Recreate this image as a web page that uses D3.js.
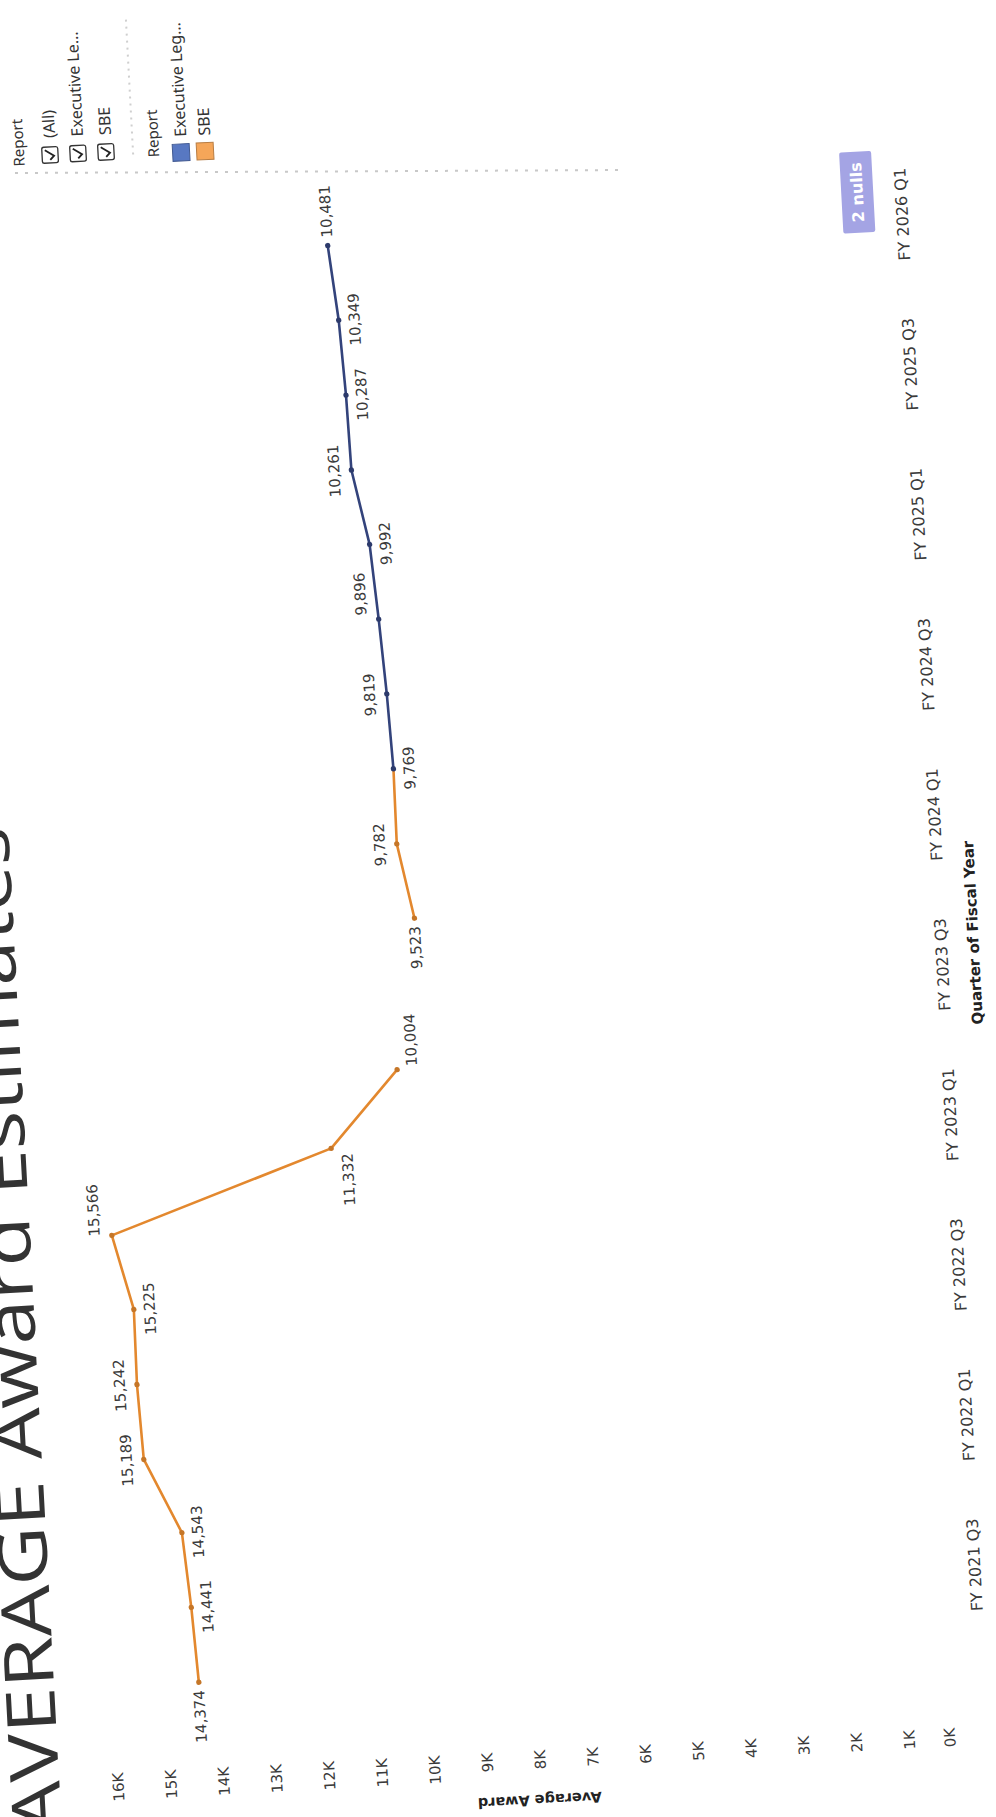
<!DOCTYPE html>
<html><head><meta charset="utf-8">
<script src="https://cdn.jsdelivr.net/npm/d3@7"></script>
<style>body{margin:0;background:#fff}svg{display:block}</style>
</head><body>
<svg id="chart" width="996" height="1817"></svg>
<script>
// ---------------- data ----------------
const quarters = ["FY 2021 Q2","FY 2021 Q3","FY 2021 Q4","FY 2022 Q1","FY 2022 Q2","FY 2022 Q3","FY 2022 Q4",
  "FY 2023 Q1","FY 2023 Q2","FY 2023 Q3","FY 2023 Q4","FY 2024 Q1","FY 2024 Q2","FY 2024 Q3","FY 2024 Q4",
  "FY 2025 Q1","FY 2025 Q2","FY 2025 Q3","FY 2025 Q4","FY 2026 Q1"];
const averageAward = [14374,14441,14543,15189,15242,15225,15566,11332,10004,null,9523,9782,
  9769,9819,9896,9992,10261,10287,10349,10481];
const report = ["SBE","SBE","SBE","SBE","SBE","SBE","SBE","SBE","SBE","SBE","SBE","SBE",
  "Executive Leg","Executive Leg","Executive Leg","Executive Leg","Executive Leg","Executive Leg","Executive Leg","Executive Leg"];
const reportNames = ["Executive Leg","SBE"];
const filterItems = ["(All)","Executive Le\u2026","SBE"];
const legendItems = ["Executive Leg\u2026","SBE"];
const valueTicks = [0,1000,2000,3000,4000,5000,6000,7000,8000,9000,10000,11000,12000,13000,14000,15000,16000];
const valueTickLabels = ["0K","1K","2K","3K","4K","5K","6K","7K","8K","9K","10K","11K","12K","13K","14K","15K","16K"];
const quarterTickLabels = ["FY 2021 Q3","FY 2022 Q1","FY 2022 Q3","FY 2023 Q1","FY 2023 Q3","FY 2024 Q1",
  "FY 2024 Q3","FY 2025 Q1","FY 2025 Q3","FY 2026 Q1"];
const nullCount = 2;
// label placement (layout only)
const labelPlacement = ["left","below","below","above","above","below","aboveRight","belowLeft","belowRight",null,
  "left","above","below","above","aboveRight","below","above","below","below","right"];

// ---------------- styles ----------------
const lineColor = {"SBE":"#e3882e","Executive Leg":"#33437b"};
const swatchColor = {"SBE":"#f5a659","Executive Leg":"#5878c2"};
const textColor = "#3a3a3a";
const FONT = "'DejaVu Sans', Verdana, sans-serif";

const svg = d3.select("#chart");
svg.append("rect").attr("width",996).attr("height",1817).attr("fill","#fff");

// scan artefact: faint dashed separator line (page coords)
svg.append("line").attr("x1",15).attr("x2",625).attr("y1",173).attr("y2",170)
  .attr("stroke","#c8c8c8").attr("stroke-width",2).attr("stroke-dasharray","3,7");

// whole dashboard rotated as on the scanned page
const g = svg.append("g").attr("transform","translate(0,1817) rotate(-93.07)");

// title
g.append("text").attr("x",-18).attr("y",61)
  .attr("font-family","'Open Sans', 'Noto Sans', sans-serif").attr("font-weight",400)
  .attr("font-size",68).attr("fill","#333")
  .attr("textLength",1007).attr("lengthAdjust","spacingAndGlyphs")
  .text("AVERAGE Award Estimates");

// scales
const x = d3.scaleLinear().domain([-1.09, 19.91]).range([42, 1620]);
const y = d3.scaleLinear().domain([0, 16000]).range([965, 119.9]);

// value axis
const yAxis = g.append("g").attr("transform","translate(42,0)")
  .call(d3.axisLeft(y).tickValues(valueTicks).tickSize(0).tickPadding(4)
    .tickFormat((d,i)=>valueTickLabels[i]));
yAxis.select(".domain").remove();
yAxis.selectAll("text").attr("font-family",FONT).attr("font-size",15).attr("fill",textColor);
yAxis.selectAll(".tick").filter(d=>d===0).select("text").attr("dy","-0.5em");

g.append("text").attr("transform",`translate(-12,540) rotate(-90)`)
  .attr("text-anchor","middle").attr("dominant-baseline","central")
  .attr("font-family",FONT).attr("font-weight","bold").attr("font-size",14.5).attr("fill","#222")
  .text("Average Award");

// quarter axis
const xAxis = g.append("g").attr("transform","translate(0,965)")
  .call(d3.axisBottom(x).tickValues(quarterTickLabels.map(l=>quarters.indexOf(l)))
    .tickSize(0).tickPadding(16).tickFormat(i=>quarters[i]));
xAxis.select(".domain").remove();
xAxis.selectAll("text").attr("font-family",FONT).attr("font-size",16).attr("fill",textColor);

g.append("text").attr("x",831).attr("y",1019).attr("text-anchor","middle").attr("dominant-baseline","central")
  .attr("font-family",FONT).attr("font-weight","bold").attr("font-size",15).attr("fill","#222")
  .text("Quarter of Fiscal Year");

// line segments coloured by the starting point's report
const pts = averageAward.map((v,i)=>({i, v, r: report[i], q: quarters[i]}));
const line = d3.line().x(d=>x(d.i)).y(d=>y(d.v));
for (let i=0;i<pts.length-1;i++){
  const a=pts[i], b=pts[i+1];
  if (a.v==null || b.v==null) continue;
  g.append("path").attr("d",line([a,b])).attr("fill","none")
    .attr("stroke",lineColor[a.r]).attr("stroke-width",2.6).attr("stroke-linecap","round");
}
g.selectAll("circle.pt").data(pts.filter(d=>d.v!=null)).join("circle").attr("class","pt")
  .attr("cx",d=>x(d.i)).attr("cy",d=>y(d.v)).attr("r",2.7)
  .attr("fill",d=>d3.color(lineColor[d.r]).darker(0.4));

// data labels
const place = {
  left:{dx:-8,dy:0,anchor:"end"}, right:{dx:8,dy:0,anchor:"start"},
  above:{dx:0,dy:-17,anchor:"middle"}, below:{dx:0,dy:16,anchor:"middle"},
  aboveRight:{dx:26,dy:-17,anchor:"middle"}, belowLeft:{dx:-32,dy:16,anchor:"middle"},
  belowRight:{dx:29,dy:15,anchor:"middle"}
};
g.selectAll("text.lbl").data(pts.filter(d=>d.v!=null)).join("text").attr("class","lbl")
  .attr("x",d=>x(d.i)+place[labelPlacement[d.i]].dx)
  .attr("y",d=>y(d.v)+place[labelPlacement[d.i]].dy)
  .attr("text-anchor",d=>place[labelPlacement[d.i]].anchor)
  .attr("dominant-baseline","central")
  .attr("font-family",FONT).attr("font-size",15).attr("fill",textColor)
  .text(d=>d3.format(",")(d.v));

// nulls indicator
const nb = g.append("g").attr("transform","translate(1536,927)");
nb.append("rect").attr("width",81).attr("height",32).attr("rx",2).attr("fill","#a4a4e4");
nb.append("text").attr("x",40.5).attr("y",16).attr("text-anchor","middle").attr("dominant-baseline","central")
  .attr("font-family",FONT).attr("font-weight","bold").attr("font-size",16).attr("fill","#fff")
  .text(nullCount + " nulls");

// filter card
const LF = "'Noto Sans', 'Open Sans', sans-serif";
g.append("text").attr("x",1647).attr("y",107).attr("dominant-baseline","central")
  .attr("font-family",LF).attr("font-size",15).attr("fill","#333").text("Report");
const fy = [139,167,195];
filterItems.forEach((t,k)=>{
  const cy = fy[k];
  g.append("rect").attr("x",1649).attr("y",cy-8).attr("width",16).attr("height",16).attr("rx",2)
    .attr("fill","#fff").attr("stroke","#333").attr("stroke-width",1.3);
  g.append("path").attr("d",`M1652,${cy} L1656,${cy+4} L1662,${cy-5}`).attr("fill","none")
    .attr("stroke","#222").attr("stroke-width",1.8);
  g.append("text").attr("x",1674).attr("y",cy).attr("dominant-baseline","central")
    .attr("font-family",LF).attr("font-size",16).attr("fill","#333").text(t);
});
g.append("line").attr("x1",1653).attr("x2",1790).attr("y1",222).attr("y2",222)
  .attr("stroke","#cfcfcf").attr("stroke-width",2).attr("stroke-dasharray","2,5");

// colour legend
g.append("text").attr("x",1649).attr("y",242).attr("dominant-baseline","central")
  .attr("font-family",LF).attr("font-size",15).attr("fill","#333").text("Report");
const ly = [270,294];
reportNames.forEach((r,k)=>{
  const cy = ly[k];
  g.append("rect").attr("x",1644).attr("y",cy-8.5).attr("width",17).attr("height",17)
    .attr("fill",swatchColor[r]).attr("stroke",d3.color(swatchColor[r]).darker(0.8)).attr("stroke-width",1);
  g.append("text").attr("x",1668).attr("y",cy).attr("dominant-baseline","central")
    .attr("font-family",LF).attr("font-size",16).attr("fill","#333").text(legendItems[k]);
});
</script>
</body></html>
